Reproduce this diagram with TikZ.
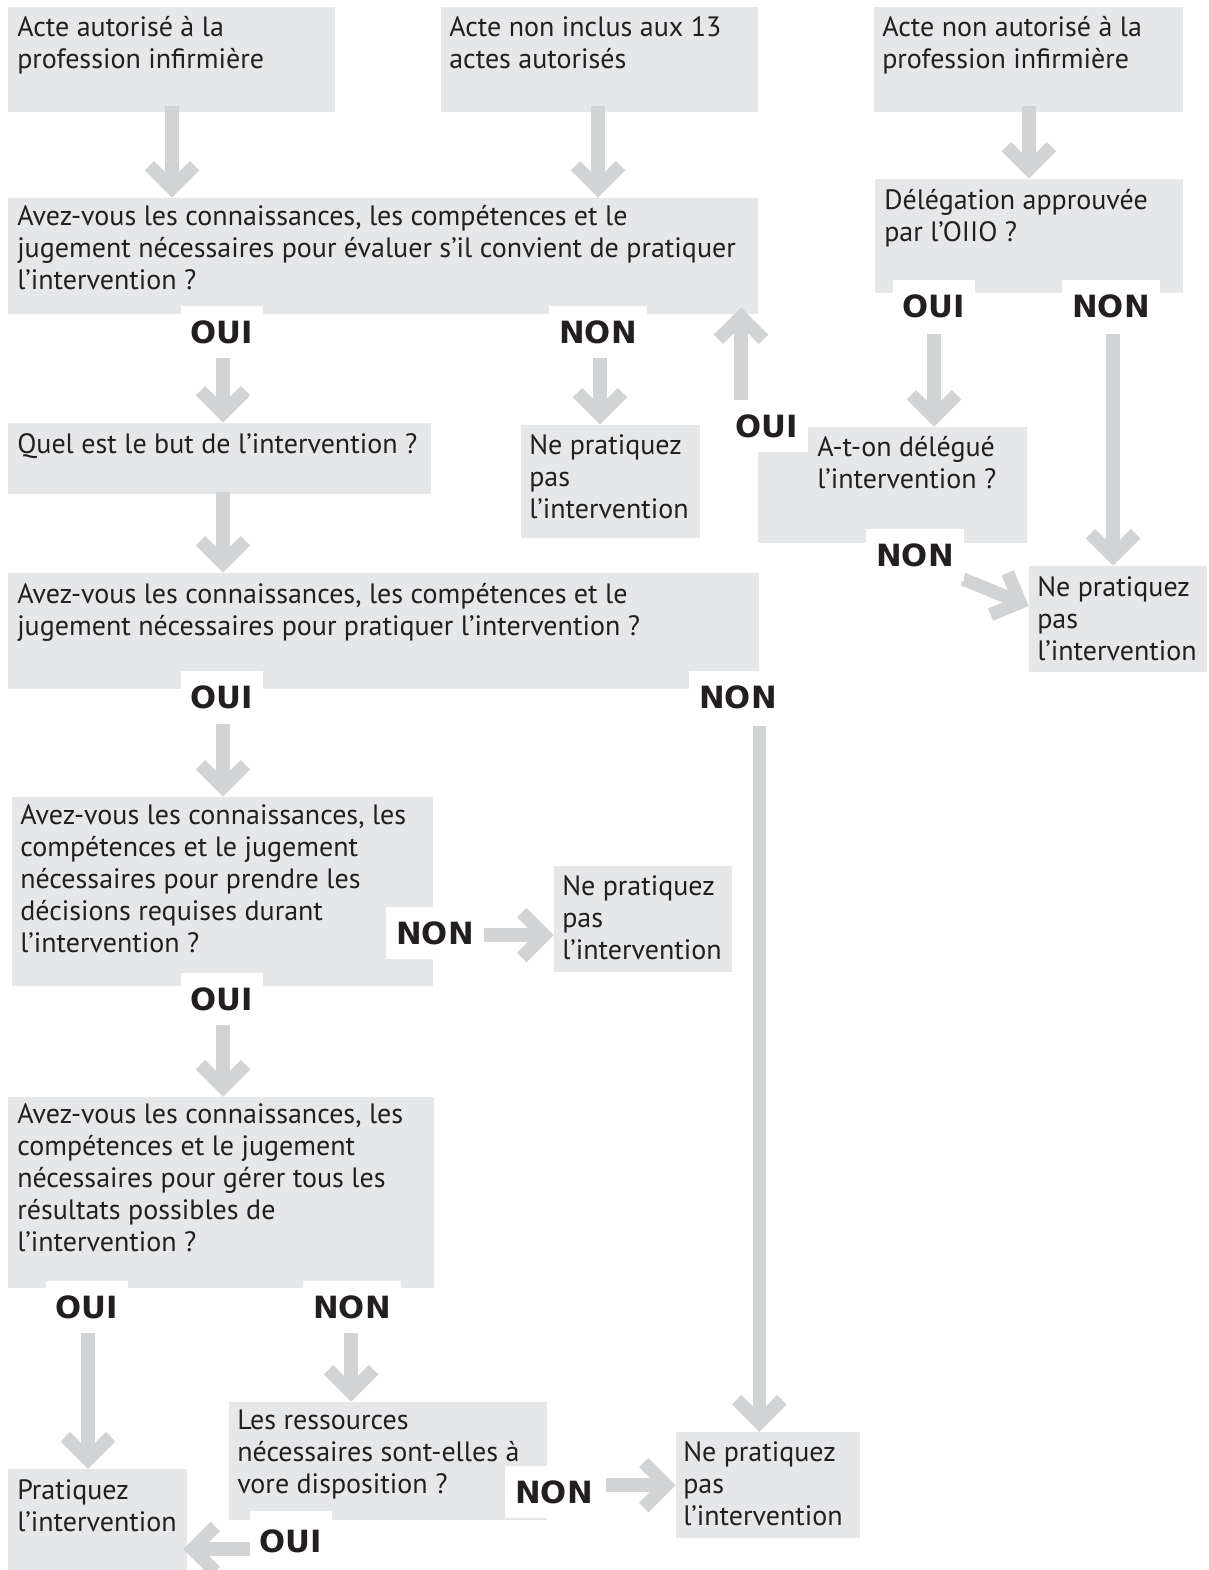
\documentclass[tikz,border=0pt]{standalone}
\usepackage{fontspec}
\setmainfont{PT Sans}
\newfontfamily\lblfont{DejaVu Sans}
\usetikzlibrary{calc,fit}
\definecolor{boxgray}{HTML}{E6E7E8}
\definecolor{arrgray}{HTML}{D1D3D4}
\definecolor{ink}{HTML}{231F20}
\newcommand{\boxtext}[1]{\parbox[t]{30cm}{\raggedright #1}}
\newcommand{\garrow}[2]{%
  \coordinate (gs) at #1;
  \coordinate (ge) at #2;
  \coordinate (gv) at ($(ge)!7.07pt!(gs)$);
  \draw[gshaft] (gs) -- (gv);
  \draw[gshaft,line join=miter] ($(gv)!24pt!45:(gs)$) -- (gv) -- ($(gv)!24pt!-45:(gs)$);
}
\tikzset{
  gbox/.style={rectangle, fill=boxgray, draw=none, inner sep=0pt},
  txt/.style={anchor=base west, inner sep=0pt, text=ink, font=\fontsize{21}{24}\selectfont},
  lbl/.style={anchor=base, fill=white, text=ink, font=\lblfont\bfseries\fontsize{23}{24}\selectfont,
    inner xsep=7.5pt, inner ysep=11pt, text height=16.5pt, text depth=0pt},
  gshaft/.style={draw=arrgray, line width=10pt, line cap=butt},
}
\begin{document}
\begin{tikzpicture}[x=0.75pt,y=-0.75pt]
\useasboundingbox (0,0) rectangle (1209,1570);
% boxes
\node[gbox, fit={(8,7) (335,112)}] (b1) {};
\node[gbox, fit={(441,7) (758,112)}] (b2) {};
\node[gbox, fit={(874,7) (1183,112)}] (b3) {};
\node[gbox, fit={(8,198) (758,314)}] (b4) {};
\node[gbox, fit={(875,179) (1183,293)}] (b5) {};
\node[gbox, fit={(8,423) (431,494)}] (b6) {};
\node[gbox, fit={(521,425) (700,538)}] (b7) {};
\node[gbox, fit={(758,427) (1027,543)}] (b8) {};
\node[gbox, fit={(1029,566) (1207,672)}] (b9) {};
\node[gbox, fit={(8,573) (759,689)}] (b10) {};
\node[gbox, fit={(12,797) (433,986)}] (b11) {};
\node[gbox, fit={(554,866) (732,972)}] (b12) {};
\node[gbox, fit={(8,1097) (434,1288)}] (b13) {};
\node[gbox, fit={(229,1402) (547,1520)}] (b14) {};
\node[gbox, fit={(676,1432) (860,1538)}] (b15) {};
\node[gbox, fit={(8,1469) (187,1570)}] (b16) {};
% texts
\node[txt] (t1) at (17,37) {\boxtext{Acte autorisé à la\\profession infirmière}};
\node[txt] (t2) at (449,37) {\boxtext{Acte non inclus aux 13\\actes autorisés}};
\node[txt] (t3) at (882,37) {\boxtext{Acte non autorisé à la\\profession infirmière}};
\node[txt] (t4) at (17,225) {\boxtext{Avez-vous les connaissances, les compétences et le\\jugement nécessaires pour évaluer s’il convient de pratiquer\\l’intervention ?}};
\node[txt] (t5) at (884,209) {\boxtext{Délégation approuvée\\par l’OIIO ?}};
\node[txt] (t6) at (17,453) {\boxtext{Quel est le but de l’intervention ?}};
\node[txt] (t7) at (529,454) {\boxtext{Ne pratiquez\\pas\\l’intervention}};
\node[txt] (t8) at (817,456) {\boxtext{A-t-on délégué\\l’intervention ?}};
\node[txt] (t9) at (1037,596) {\boxtext{Ne pratiquez\\pas\\l’intervention}};
\node[txt] (t10) at (17,603) {\boxtext{Avez-vous les connaissances, les compétences et le\\jugement nécessaires pour pratiquer l’intervention ?}};
\node[txt] (t11) at (20,824) {\boxtext{Avez-vous les connaissances, les\\compétences et le jugement\\nécessaires pour prendre les\\décisions requises durant\\l’intervention ?}};
\node[txt] (t12) at (562,895) {\boxtext{Ne pratiquez\\pas\\l’intervention}};
\node[txt] (t13) at (17,1123) {\boxtext{Avez-vous les connaissances, les\\compétences et le jugement\\nécessaires pour gérer tous les\\résultats possibles de\\l’intervention ?}};
\node[txt] (t14) at (237,1429) {\boxtext{Les ressources\\nécessaires sont-elles à\\vore disposition ?}};
\node[txt] (t15) at (683,1461) {\boxtext{Ne pratiquez\\pas\\l’intervention}};
\node[txt] (t16) at (17,1499) {\boxtext{Pratiquez\\l’intervention}};
% label positions (coordinates for arrows)
\coordinate (l1p) at (222,343);
\coordinate (l2p) at (598,343);
\coordinate (l3p) at (934,317);
\coordinate (l4p) at (1111,317);
\coordinate (l5p) at (767,437);
\coordinate (l6p) at (915,566);
\coordinate (l7p) at (222,708);
\coordinate (l8p) at (738,708);
\coordinate (l9p) at (435,944);
\coordinate (l10p) at (222,1010);
\coordinate (l11p) at (87,1318);
\coordinate (l12p) at (352,1318);
\coordinate (l13p) at (554,1503);
\coordinate (l14p) at (291,1552);
% arrows
\garrow{($(b1.south -| 172,0)+(0,-6)$)}{(b4.north -| 172,0)}
\garrow{($(b2.south -| 598,0)+(0,-6)$)}{(b4.north -| 598,0)}
\garrow{($(b3.south -| 1029,0)+(0,-6)$)}{(b5.north -| 1029,0)}
\garrow{(934,334)}{(b8.north -| 934,0)}
\garrow{(1113,334)}{(b9.north -| 1113,0)}
\garrow{(223,358)}{(b6.north -| 223,0)}
\garrow{(600,358)}{(b7.north -| 600,0)}
\garrow{(741,402)}{($(b4.south -| 741,0)+(0,-7)$)}
\coordinate (c9) at (963,579);
\garrow{(c9)}{(b9.west |- 0,606)}
\garrow{($(b6.south -| 223,0)+(0,-2)$)}{(b10.north -| 223,0)}
\garrow{(223,724)}{(b11.north -| 223,0)}
\garrow{(b10.east |- 0,726)}{(b15.north -| b10.east)}
\coordinate (c13) at (482,935);
\garrow{(c13)}{(b12.west |- c13)}
\garrow{(223,1025)}{(b13.north -| 223,0)}
\garrow{(88,1331)}{(b16.north -| 88,0)}
\garrow{(351,1331)}{(b14.north -| 351,0)}
\coordinate (c17) at (606,1485);
\garrow{(c17)}{(b15.west |- c17)}
\coordinate (c18) at (252,1549);
\garrow{(c18)}{($(b16.east |- c18)+(-4,0)$)}
% labels
\node[lbl] (l1) at (l1p) {OUI};
\node[lbl] (l2) at (l2p) {NON};
\node[lbl] (l3) at (l3p) {OUI};
\node[lbl] (l4) at (l4p) {NON};
\node[lbl] (l5) at (l5p) {OUI};
\node[lbl] (l6) at (l6p) {NON};
\node[lbl] (l7) at (l7p) {OUI};
\node[lbl] (l8) at (l8p) {NON};
\node[lbl] (l9) at (l9p) {NON};
\node[lbl] (l10) at (l10p) {OUI};
\node[lbl] (l11) at (l11p) {OUI};
\node[lbl] (l12) at (l12p) {NON};
\node[lbl] (l13) at (l13p) {NON};
\node[lbl, text height=20pt] (l14) at (l14p) {OUI};
\end{tikzpicture}
\end{document}
